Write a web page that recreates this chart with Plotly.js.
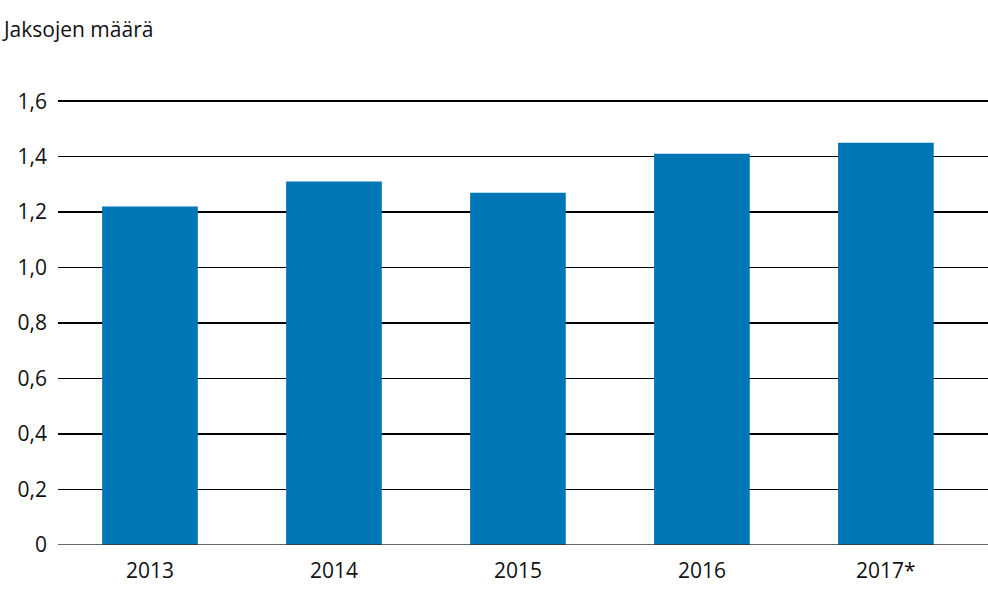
<!DOCTYPE html>
<html>
<head>
<meta charset="utf-8">
<script src="https://cdn.plot.ly/plotly-3.0.1.min.js"></script>
<style>
  html, body { margin: 0; padding: 0; background: #fff; }
  #chart { width: 988px; height: 601px; }
</style>
</head>
<body>
<div id="chart"></div>
<script>
var years = ["2013", "2014", "2015", "2016", "2017*"];
var jaksot = [1.22, 1.31, 1.27, 1.41, 1.45];
var yTickVals = [0, 0.2, 0.4, 0.6, 0.8, 1.0, 1.2, 1.4, 1.6];
var yTickText = ["0", "0,2", "0,4", "0,6", "0,8", "1,0", "1,2", "1,4", "1,6"];

var font = "Open Sans, Noto Sans, sans-serif";

var layout = {
  width: 988,
  height: 601,
  margin: { l: 58, r: 0, t: 97, b: 56 },
  paper_bgcolor: "#ffffff",
  plot_bgcolor: "#ffffff",
  showlegend: false,
  bargap: 0.48,
  title: {
    text: "Jaksojen määrä",
    font: { family: font, size: 21, color: "#111111" },
    xref: "container",
    yref: "container",
    x: 0.004,
    xanchor: "left",
    y: 0.95,
    yanchor: "middle",
  },
  xaxis: {
    type: "category",
    range: [-0.5, 4.555],
    showgrid: false,
    zeroline: false,
    showline: false,
    ticks: "",
    tickfont: { family: font, size: 21, color: "#111111" },
    ticklabelstandoff: 11,
  },
  yaxis: {
    range: [0, 1.615],
    tickvals: yTickVals,
    ticktext: yTickText,
    showgrid: true,
    gridcolor: "#000000",
    gridwidth: 1.6,
    zeroline: false,
    showline: false,
    ticks: "",
    tickfont: { family: font, size: 21, color: "#111111" },
    ticklabelstandoff: 10,
    fixedrange: true,
  },
  shapes: [
    {
      type: "line",
      xref: "paper",
      yref: "y",
      x0: 0,
      x1: 1,
      y0: 0,
      y1: 0,
      line: { color: "#333333", width: 1.5 },
      layer: "above",
    },
  ],
};

Plotly.newPlot(
  "chart",
  [
    {
      x: years,
      y: jaksot,
      type: "bar",
      marker: { color: "#0076b4" },
      hoverinfo: "x+y",
    },
  ],
  layout,
  { displayModeBar: false, staticPlot: true }
);
</script>
</body>
</html>
